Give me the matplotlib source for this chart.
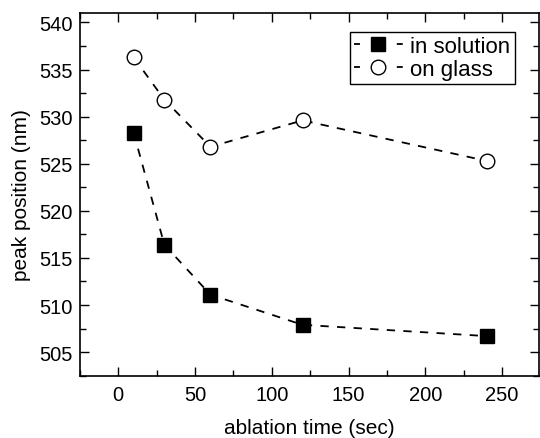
import matplotlib
matplotlib.use("Agg")
import matplotlib.pyplot as plt
from matplotlib.ticker import MultipleLocator

plt.rcParams['font.family'] = ['Liberation Sans', 'DejaVu Sans']

time_sec = [10, 30, 60, 120, 240]
in_solution = [528.3, 516.4, 511.1, 507.9, 506.7]
on_glass = [536.3, 531.8, 526.8, 529.6, 525.3]

fig = plt.figure(figsize=(5.4, 4.39), dpi=100)
ax = fig.add_axes([0.148, 0.142, 0.850, 0.826])

dash = (0, (4.6, 4.6))
ax.plot(time_sec, in_solution, linestyle=dash, color='black', linewidth=1.3,
        marker='s', markersize=10, markerfacecolor='black',
        markeredgecolor='black', label='in solution')
ax.plot(time_sec, on_glass, linestyle=dash, color='black', linewidth=1.3,
        marker='o', markersize=10.5, markerfacecolor='white',
        markeredgecolor='black', markeredgewidth=1.0, label='on glass')

ax.set_xlim(-25, 274)
ax.set_ylim(502.5, 541)
ax.xaxis.set_major_locator(MultipleLocator(50))
ax.xaxis.set_minor_locator(MultipleLocator(25))
ax.yaxis.set_major_locator(MultipleLocator(5))
ax.yaxis.set_minor_locator(MultipleLocator(2.5))

ax.tick_params(which='both', direction='in', top=True, right=True,
               labelsize=14.5, width=1.0)
ax.tick_params(which='major', length=6.5)
ax.tick_params(which='minor', length=4)
ax.tick_params(axis='x', which='major', pad=7)
ax.tick_params(axis='y', which='major', pad=5)
for sp in ax.spines.values():
    sp.set_linewidth(1.2)

ax.set_xlabel('ablation time (sec)', fontsize=15, labelpad=10)
ax.set_ylabel('peak position (nm)', fontsize=15, labelpad=6)

leg = ax.legend(loc='upper right', bbox_to_anchor=(0.947, 0.948),
                borderaxespad=0, fontsize=16, frameon=True, fancybox=False,
                edgecolor='black', handlelength=2.2, handletextpad=0.35,
                borderpad=0.18, labelspacing=0.1, framealpha=1)
leg.get_frame().set_linewidth(1.0)
# short dash on each side of the legend marker: "- ■ -"
for line in leg.get_lines():
    line.set_linestyle((0, (3.3, 20.4)))

fig.savefig('out.png', dpi=100)
